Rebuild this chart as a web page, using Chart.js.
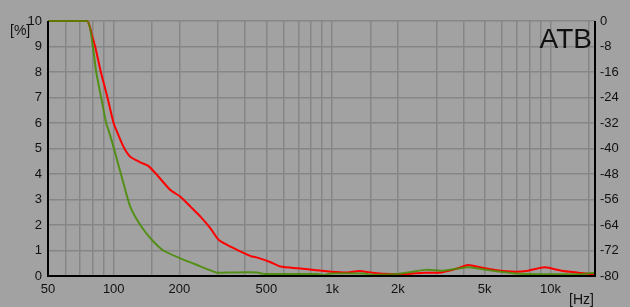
<!DOCTYPE html>
<html>
<head>
<meta charset="utf-8">
<script src="https://cdn.jsdelivr.net/npm/chart.js@4.4.1/dist/chart.umd.min.js"></script>
<style>
  html, body { margin: 0; padding: 0; background: #a2a2a2; }
  #wrap { width: 630px; height: 307px; position: relative; }
</style>
</head>
<body>
<div id="wrap"><canvas id="atbChart" width="630" height="307"></canvas></div>
<script>
const redHz  = [50, 75.5, 79.4, 82.2, 87.3, 93.6, 99.8, 102.7, 109, 112.9, 119, 132.3, 144.4, 157.9, 181.7, 202, 224.6, 249.5, 277.4, 302.9, 342.8, 423.7, 454.6, 523, 582, 694, 827, 987, 1178, 1332, 1561, 1862, 2222, 2648, 3160, 3636, 4191, 4821, 5552, 6864, 7904, 9420, 11240, 13415, 15440, 16000];
const redPct = [10, 10, 9.45, 9, 8, 7, 6, 5.73, 5.2, 4.94, 4.68, 4.46, 4.31, 3.96, 3.37, 3.11, 2.72, 2.33, 1.87, 1.41, 1.15, 0.78, 0.72, 0.54, 0.37, 0.30, 0.24, 0.17, 0.14, 0.2, 0.12, 0.08, 0.08, 0.13, 0.14, 0.26, 0.43, 0.33, 0.24, 0.17, 0.21, 0.34, 0.21, 0.13, 0.07, 0.1];

const greenHz  = [50, 75.5, 80.2, 83.1, 87.6, 92.3, 94.6, 98.7, 101.6, 110.9, 119, 132.3, 149.7, 169.3, 202, 241, 297.8, 342.8, 454.6, 487, 858, 920, 987, 1404, 1507, 1999, 2301, 2648, 2842, 3160, 3636, 4191, 4821, 5552, 6864, 9770, 13890, 16000];
const greenPct = [10, 10, 9, 8, 7, 6, 5.73, 5.2, 4.81, 3.63, 2.72, 2.0, 1.41, 0.99, 0.69, 0.43, 0.13, 0.14, 0.14, 0.08, 0.08, 0.04, 0.1, 0.1, 0.05, 0.08, 0.16, 0.24, 0.24, 0.21, 0.27, 0.34, 0.27, 0.2, 0.1, 0.07, 0.07, 0.13];

// axis ticks
const gridHz = [50, 60, 70, 80, 90, 100, 150, 200, 300, 400, 500, 600, 700, 800, 900, 1000, 1500, 2000, 3000, 4000, 5000, 6000, 7000, 8000, 9000, 10000, 15000];
const labelHz = {50: '50', 100: '100', 200: '200', 500: '500', 1000: '1k', 2000: '2k', 5000: '5k', 10000: '10k'};
const dbTicks = [0, -8, -16, -24, -32, -40, -48, -56, -64, -72, -80];

const toPoints = (xs, ys) => xs.map((x, i) => ({ x: x, y: ys[i] }));

const FONT = 'Liberation Sans, Arial, sans-serif';
const GRID = '#868686';

const extraText = {
    id: 'extraText',
    afterDraw(chart) {
        const c = chart.ctx;
        const a = chart.chartArea;
        c.save();
        // black frame on left, right and bottom
        c.strokeStyle = '#000';
        c.lineWidth = 2;
        c.beginPath();
        c.moveTo(a.left, a.top);
        c.lineTo(a.left, a.bottom);
        c.lineTo(a.right, a.bottom);
        c.lineTo(a.right, a.top);
        c.stroke();
        c.fillStyle = '#111';
        c.font = '14px ' + FONT;
        c.textBaseline = 'middle';
        c.textAlign = 'left';
        c.fillText('[%]', 10, 31);
        c.textAlign = 'right';
        c.fillText('[Hz]', a.right - 1, 300);
        c.font = '28px ' + FONT;
        c.textBaseline = 'alphabetic';
        c.fillText('ATB', a.right - 3, 48);
        c.restore();
    }
};

const bg = {
    id: 'bg',
    beforeDraw(chart) {
        const c = chart.ctx;
        c.save();
        c.fillStyle = '#a2a2a2';
        c.fillRect(0, 0, chart.width, chart.height);
        c.restore();
    }
};

const ctx = document.getElementById('atbChart').getContext('2d');
const atbChart = new Chart(ctx, {
    type: 'line',
    data: {
        datasets: [{
            label: 'red',
            data: toPoints(redHz, redPct),
            borderColor: '#ff0000',
            borderWidth: 2,
            pointRadius: 0,
            tension: 0.2,
            clip: 3,
            order: 2,
            yAxisID: 'y'
        }, {
            label: 'green',
            data: toPoints(greenHz, greenPct),
            borderColor: 'rgba(70, 140, 0, 0.85)',
            borderWidth: 2,
            pointRadius: 0,
            tension: 0.2,
            clip: 3,
            order: 1,
            yAxisID: 'y'
        }]
    },
    options: {
        responsive: false,
        animation: false,
        layout: { padding: { top: 21, left: 0, right: 0, bottom: 0 } },
        plugins: { legend: { display: false }, tooltip: { enabled: false } },
        scales: {
            x: {
                type: 'logarithmic',
                min: 50,
                max: 16000,
                afterBuildTicks(scale) {
                    scale.ticks = gridHz.map(v => ({ value: v }));
                },
                afterFit(scale) { scale.height = 31; },
                ticks: {
                    autoSkip: false,
                    maxRotation: 0,
                    padding: 6,
                    color: '#111',
                    font: { family: FONT, size: 13 },
                    callback: (v) => labelHz[v] || ''
                },
                grid: { color: GRID, lineWidth: 1.5, drawTicks: false },
                border: { display: false }
            },
            y: {
                position: 'left',
                min: 0,
                max: 10,
                afterFit(scale) { scale.width = 48; },
                ticks: {
                    stepSize: 1,
                    padding: 6,
                    color: '#111',
                    font: { family: FONT, size: 13 }
                },
                grid: { color: GRID, lineWidth: 1.5, drawTicks: false },
                border: { display: false }
            },
            db: {
                position: 'right',
                min: -80,
                max: 0,
                afterBuildTicks(scale) {
                    scale.ticks = dbTicks.map(v => ({ value: v }));
                },
                afterFit(scale) { scale.width = 35; },
                ticks: {
                    padding: 5,
                    color: '#111',
                    font: { family: FONT, size: 13 }
                },
                grid: { display: false, drawTicks: false },
                border: { display: false }
            }
        }
    },
    plugins: [bg, extraText]
});
</script>
</body>
</html>
